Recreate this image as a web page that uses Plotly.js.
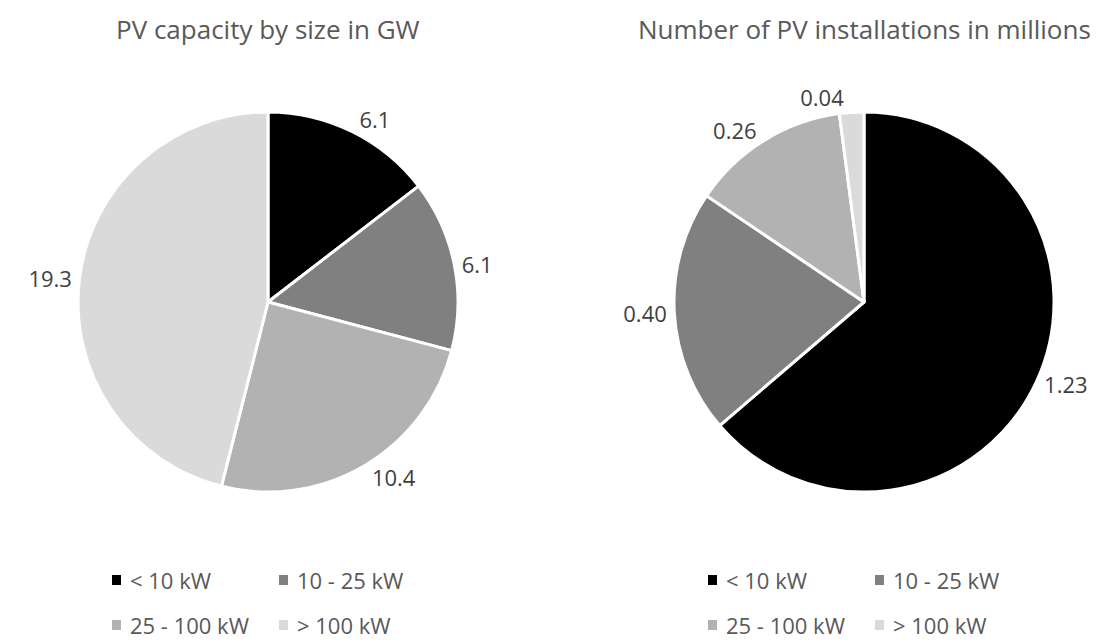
<!DOCTYPE html>
<html>
<head>
<meta charset="utf-8">
<script src="https://cdn.plot.ly/plotly-3.0.1.min.js"></script>
<style>html,body{margin:0;padding:0;background:#fff;}#chart{width:1107px;height:642px;}</style>
</head>
<body>
<div id="chart"></div>
<script>
const categories = ['< 10 kW', '10 - 25 kW', '25 - 100 kW', '> 100 kW'];
const capacityGW = [6.1, 6.1, 10.4, 19.3];
const installationsMillions = [1.23, 0.40, 0.26, 0.04];
const titles = ['PV capacity by size in GW', 'Number of PV installations in millions'];
const sliceColors = ['#000000', '#808080', '#b2b2b2', '#dadada'];

const W = 1107, H = 642;
const FONT = '"Open Sans", "Segoe UI", sans-serif';
const centers = [268, 864];
const cy = 302, R = 190;

function pie(values, cx, fmt) {
  return {
    type: 'pie',
    values: values,
    labels: categories,
    sort: false,
    direction: 'clockwise',
    rotation: 0,
    marker: {colors: sliceColors, line: {color: '#ffffff', width: 3}},
    textposition: 'outside',
    texttemplate: '%{value:' + fmt + '}',
    outsidetextfont: {family: FONT, size: 22, color: '#404040'},
    hoverinfo: 'label+value',
    showlegend: false,
    domain: {
      x: [(cx - R) / W, (cx + R) / W],
      y: [1 - (cy + R) / H, 1 - (cy - R) / H]
    }
  };
}

const data = [
  pie(capacityGW, centers[0], '.1f'),
  pie(installationsMillions, centers[1], '.2f')
];

const annotations = [];
const shapes = [];
centers.forEach((cx, i) => {
  annotations.push({
    text: titles[i], xref: 'paper', yref: 'paper',
    x: cx / W, y: 1 - 29 / H, xanchor: 'center', yanchor: 'middle',
    showarrow: false, font: {family: FONT, size: 26, color: '#595959'}
  });
  categories.forEach((c, k) => {
    const col = k % 2, row = Math.floor(k / 2);
    const sx = cx - 156 + col * 167;
    const syc = 580 + row * 45;
    shapes.push({
      type: 'rect', xref: 'paper', yref: 'paper',
      x0: sx / W, x1: (sx + 9) / W,
      y0: 1 - (syc + 5) / H, y1: 1 - (syc - 5) / H,
      fillcolor: sliceColors[k], line: {width: 0}
    });
    annotations.push({
      text: c, xref: 'paper', yref: 'paper',
      x: (sx + 16) / W, y: 1 - syc / H, xanchor: 'left', yanchor: 'middle',
      showarrow: false, font: {family: FONT, size: 22, color: '#595959'}
    });
  });
});

const layout = {
  width: W, height: H,
  margin: {l: 0, r: 0, t: 0, b: 0},
  paper_bgcolor: '#ffffff',
  showlegend: false,
  annotations: annotations,
  shapes: shapes,
  font: {family: FONT}
};

Plotly.newPlot('chart', data, layout, {displayModeBar: false, staticPlot: true});
</script>
</body>
</html>
